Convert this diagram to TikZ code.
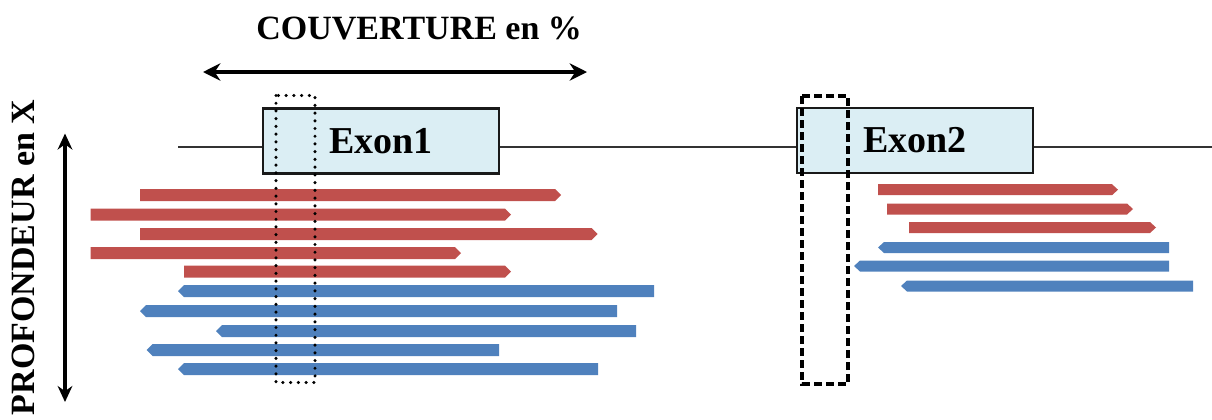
\documentclass[tikz,border=0pt]{standalone}
\usepackage{fontspec}
\setmainfont{Liberation Serif}
\usetikzlibrary{arrows.meta}
\definecolor{readred}{HTML}{C0504D}
\definecolor{readblue}{HTML}{4F81BD}
\definecolor{exonfill}{HTML}{DBEEF4}
\definecolor{genegray}{HTML}{333333}
\tikzset{
  exonbox/.style={draw=black!90, line width=1.7pt, fill=exonfill, minimum width=177pt, minimum height=48.75pt, inner sep=0pt, font=\fontsize{28.5pt}{30pt}\selectfont\bfseries},
  genelinestyle/.style={draw=genegray, line width=1.6pt},
  labeltext/.style={inner sep=0pt, font=\fontsize{25.5pt}{28pt}\selectfont\bfseries},
  bigarrow/.style={line width=3pt, {Stealth[length=13pt,width=13pt]}-{Stealth[length=13pt,width=13pt]}},
  smallarrow/.style={line width=2.6pt, {Stealth[length=12pt,width=11pt]}-{Stealth[length=12pt,width=11pt]}},
  dottedwin/.style={draw=black, line width=2.6pt, line cap=round, dash pattern=on 0pt off 5.8pt},
  dashedwin/.style={draw=black, line width=2.3pt, dash pattern=on 6pt off 3pt},
}
\begin{document}
\begin{tikzpicture}[x=0.75pt, y=-0.75pt]
\useasboundingbox (0,0) rectangle (1212,419);
% gene line
\coordinate (gl) at (178,147);
\coordinate (gr) at (1212,147);
\draw[genelinestyle] (gl) -- (gr);
% exons
\node[exonbox] (e1) at (381,141) {Exon1};
\node[exonbox] (e2) at (915,140.5) {Exon2};
% forward (red) reads
\foreach \a/\b/\c in {140/561/195, 90.7/511/214.5, 140/597.7/234, 90.7/461/253, 184/511/271.7}
  \fill[readred] (\a,\c-6) -- (\b-6,\c-6) -- (\b,\c) -- (\b-6,\c+6) -- (\a,\c+6) -- cycle;
\foreach \a/\b/\c in {878/1118/189.7, 887/1133/209, 909/1156/227.5}
  \fill[readred] (\a,\c-5.5) -- (\b-6,\c-5.5) -- (\b,\c) -- (\b-6,\c+5.5) -- (\a,\c+5.5) -- cycle;
% reverse (blue) reads
\foreach \a/\b/\c in {178/654/291, 140/617/311, 216/636/331, 146.7/499/350, 178/598/369}
  \fill[readblue] (\a,\c) -- (\a+6,\c-6) -- (\b,\c-6) -- (\b,\c+6) -- (\a+6,\c+6) -- cycle;
\foreach \a/\b/\c in {878/1169/247.5, 854/1169/266, 901/1193/286}
  \fill[readblue] (\a,\c) -- (\a+6,\c-5.5) -- (\b,\c-5.5) -- (\b,\c+5.5) -- (\a+6,\c+5.5) -- cycle;
% windows
\draw[dottedwin] (276,95.5) rectangle (315,382.5);
\draw[dashedwin] (802,96) rectangle (848,384);
% labels
\node[labeltext, anchor=base] (cov) at (419.2,39.3) {COUVERTURE en \%};
\node[labeltext, anchor=base, rotate=90] (prof) at (34,257.4) {PROFONDEUR en X};
% arrows
\coordinate (ha) at (203,72);
\coordinate (hb) at (587,72);
\draw[bigarrow] (ha) -- (hb);
\coordinate (va) at (65,133.5);
\coordinate (vb) at (65,402);
\draw[smallarrow] (va) -- (vb);
\end{tikzpicture}
\end{document}
